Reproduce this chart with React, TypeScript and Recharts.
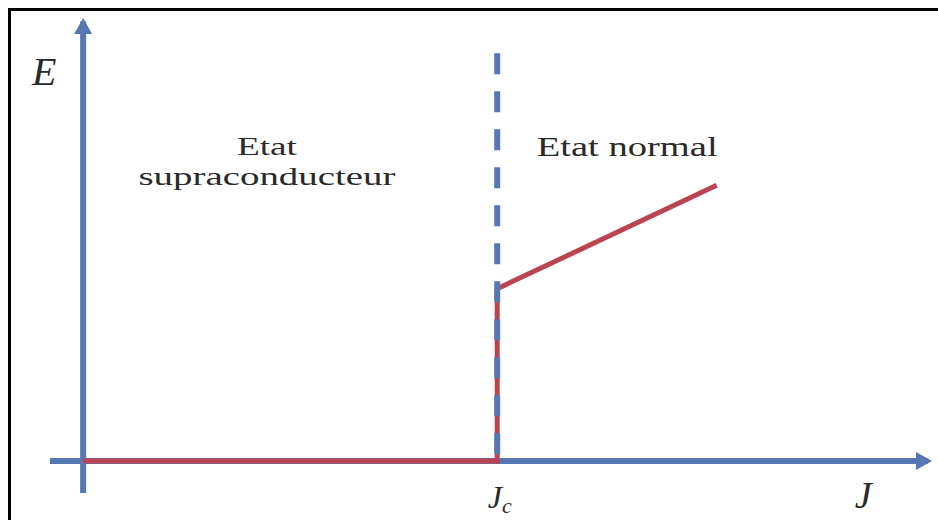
import { ComposedChart, Line, Scatter, XAxis, YAxis, ReferenceDot } from "recharts";

// abstract units: J along x, E along y; critical current at J = 5
const J_C = 5;

const eAxisPts = [
  { x: 0, y: -0.37 },
  { x: 0, y: 5.1 },
];
const jAxisPts = [
  { x: -0.4, y: 0 },
  { x: 10.2, y: 0 },
];
const eArrow = [{ x: 0, y: 5.14 }];
const jArrow = [{ x: 10.25, y: 0 }];

// E(J) characteristic: zero below Jc, jump, then ohmic slope
const characteristic = [
  { x: 0, y: 0 },
  { x: J_C, y: 0 },
  { x: J_C, y: 2 },
  { x: 7.65, y: 3.2 },
];
const criticalLine = [
  { x: J_C, y: 4.73 },
  { x: J_C, y: 0 },
];

const labels = [
  { id: "E", x: -0.47, y: 4.53 },
  { id: "J", x: 9.42, y: -0.37 },
  { id: "Jc", x: 5.03, y: -0.37 },
  { id: "supra", x: 2.22, y: 3.63 },
  { id: "normal", x: 6.57, y: 3.63 },
];

const BLUE = "#5577b2";
const RED = "#bb4453";
const SERIF = "Liberation Serif";

type ShapeProps = { cx?: number; cy?: number };

const UpArrow = ({ cx = 0, cy = 0 }: ShapeProps) => (
  <polygon points={`${cx},${cy} ${cx - 9},${cy + 16} ${cx + 9},${cy + 16}`} fill={BLUE} />
);

const RightArrow = ({ cx = 0, cy = 0 }: ShapeProps) => (
  <polygon points={`${cx},${cy} ${cx - 16},${cy - 9} ${cx - 16},${cy + 9}`} fill={BLUE} />
);

function renderLabel(id: string) {
  return ({ cx = 0, cy = 0 }: ShapeProps) => {
    const common = { fill: "#2a2a2a", style: { fontFamily: SERIF } };
    if (id === "E")
      return (
        <text x={cx} y={cy + 14} textAnchor="middle" fontSize={40} fontStyle="italic" {...common}>
          E
        </text>
      );
    if (id === "J")
      return (
        <text x={cx} y={cy + 15} textAnchor="middle" fontSize={38} fontStyle="italic" {...common}>
          J
        </text>
      );
    if (id === "Jc")
      return (
        <text x={cx - 12} y={cy + 15} fontSize={32} fontStyle="italic" {...common}>
          J
          <tspan fontSize={22} dy={5}>
            c
          </tspan>
        </text>
      );
    if (id === "supra")
      return (
        <g>
          <text x={cx} y={cy + 7} textAnchor="middle" fontSize={26} textLength={60} lengthAdjust="spacingAndGlyphs" {...common}>
            Etat
          </text>
          <text x={cx} y={cy + 37} textAnchor="middle" fontSize={26} textLength={257} lengthAdjust="spacingAndGlyphs" {...common}>
            supraconducteur
          </text>
        </g>
      );
    return (
      <text x={cx} y={cy + 8} textAnchor="middle" fontSize={28} textLength={181} lengthAdjust="spacingAndGlyphs" {...common}>
        Etat normal
      </text>
    );
  };
}

export default function App() {
  return (
    <div style={{ position: "absolute", left: 0, top: 0, width: 938, height: 520, background: "#fff", overflow: "hidden" }}>
      <div
        style={{
          position: "absolute",
          left: 8,
          top: 8,
          width: 940,
          height: 520,
          borderTop: "3px solid #000",
          borderLeft: "3px solid #000",
        }}
      />
      <ComposedChart
        width={938}
        height={520}
        margin={{ top: 18, right: 6, bottom: 27, left: 50 }}
        style={{ position: "absolute", left: 0, top: 0 }}
      >
        <XAxis type="number" dataKey="x" domain={[-0.4, 10.25]} hide allowDataOverflow />
        <YAxis type="number" dataKey="y" domain={[-0.37, 5.14]} hide allowDataOverflow />
        <Line data={eAxisPts} dataKey="y" stroke={BLUE} strokeWidth={6} dot={false} isAnimationActive={false} />
        <Line data={jAxisPts} dataKey="y" stroke={BLUE} strokeWidth={6} dot={false} isAnimationActive={false} />
        <Scatter data={eArrow} dataKey="y" shape={UpArrow} isAnimationActive={false} />
        <Scatter data={jArrow} dataKey="y" shape={RightArrow} isAnimationActive={false} />
        <Line data={characteristic} dataKey="y" stroke={RED} strokeWidth={5} dot={false} isAnimationActive={false} />
        <Line
          data={criticalLine}
          dataKey="y"
          stroke={BLUE}
          strokeWidth={6}
          strokeDasharray="21 17"
          dot={false}
          isAnimationActive={false}
        />
        {labels.map((l) => (
          <ReferenceDot key={l.id} x={l.x} y={l.y} r={0} ifOverflow="visible" shape={renderLabel(l.id)} />
        ))}
      </ComposedChart>
    </div>
  );
}
